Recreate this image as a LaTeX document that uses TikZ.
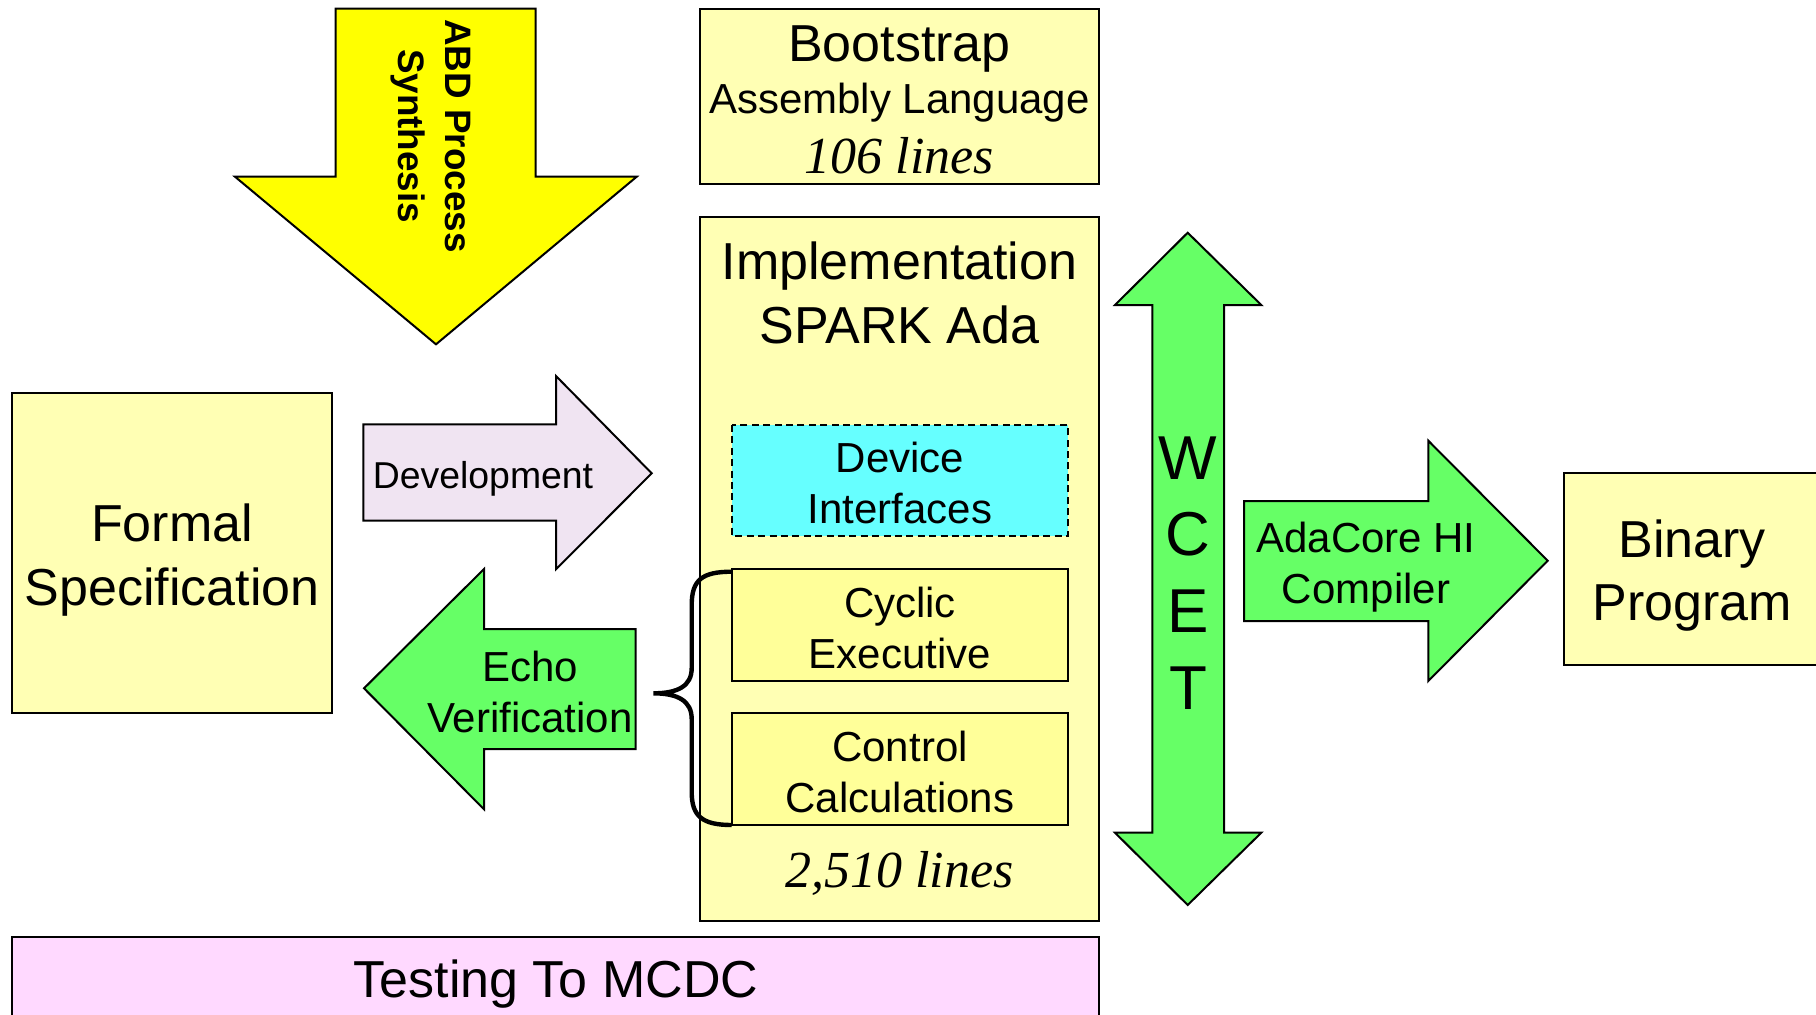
\documentclass[tikz,border=0pt]{standalone}
\usepackage{fontspec}
\setmainfont{Liberation Sans}
\newfontfamily\timesfont{Liberation Serif}
\definecolor{boxyellow}{HTML}{FFFFB4}
\definecolor{inyellow}{HTML}{FFFF99}
\definecolor{devcyan}{HTML}{66FFFF}
\definecolor{arrgreen}{HTML}{66FF66}
\definecolor{lavender}{HTML}{F0E4F2}
\definecolor{testpink}{HTML}{FFD9FF}
\definecolor{arryellow}{HTML}{FFFF00}
\newcommand\fbig{\fontsize{26}{31.5}\selectfont}
\newcommand\fmed{\fontsize{21}{25.5}\selectfont}
\newcommand\fdev{\fontsize{18.7}{22}\selectfont}
\newcommand\fwcet{\fontsize{31}{38.5}\selectfont}
\newcommand\fital{\timesfont\itshape\fontsize{26}{31.5}\selectfont}
\begin{document}
\begin{tikzpicture}[x=0.5pt,y=-0.5pt,
  outl/.style={draw=black,line width=1pt},
  lbl/.style={inner sep=0pt,anchor=base,text=black}]
\useasboundingbox (0,0) rectangle (1816,1014);
\clip (0,0) rectangle (1816,1014);

% boxes
\path[outl,fill=boxyellow] (11.7,393.3) rectangle (332.3,712.7);
\path[outl,fill=boxyellow] (700,9) rectangle (1099.3,184);
\path[outl,fill=boxyellow] (700,216.7) rectangle (1099.3,920.7);
\path[outl,fill=devcyan,dash pattern=on 3.5pt off 2.2pt] (732.3,425) rectangle (1067.7,536);
\path[outl,fill=inyellow] (732.3,569) rectangle (1067.7,680.7);
\path[outl,fill=inyellow] (732.3,712.7) rectangle (1067.7,825);
\path[outl,fill=testpink] (11.7,936.7) rectangle (1099.3,1040);
\path[outl,fill=boxyellow] (1564,473) rectangle (1840,664.7);

% arrows
\path[outl,fill=arryellow] (335.7,8.7) -- (535.7,8.7) -- (535.7,176.7) -- (636.7,176.7)
  -- (436,344.3) -- (235,176.7) -- (335.7,176.7) -- cycle;
\path[outl,fill=lavender] (363.3,424.3) -- (556,424.3) -- (556,376) -- (651.7,473.3)
  -- (556,569.3) -- (556,520.7) -- (363.3,520.7) -- cycle;
\path[outl,fill=arrgreen] (635.7,629) -- (484,629) -- (484,569) -- (364,688.3)
  -- (484,809.3) -- (484,749) -- (635.7,749) -- cycle;
\path[outl,fill=arrgreen] (1187.7,232.7) -- (1261.3,305) -- (1224,305) -- (1224,832.7)
  -- (1261.3,832.7) -- (1187.7,905) -- (1115,832.7) -- (1152.3,832.7) -- (1152.3,305)
  -- (1115,305) -- cycle;
\path[outl,fill=arrgreen] (1244,501) -- (1428.3,501) -- (1428.3,440.7) -- (1547.7,560.7)
  -- (1428.3,681) -- (1428.3,621) -- (1244,621) -- cycle;

% brace
\coordinate (bt) at (731.7,571.7);
\coordinate (bb) at (731.7,825);
\coordinate (btip) at (653.3,693.3);
\draw[line width=2.2pt] (bt) .. controls (702,571.7) and (691.7,580) .. (691.7,605)
  -- (691.7,668) .. controls (691.7,686) and (678,693.3) .. (btip)
  .. controls (678,693.3) and (691.7,701) .. (691.7,719)
  -- (691.7,792) .. controls (691.7,816) and (702,825) .. (bb);

% texts
\node[lbl] (t1) at (899.5,61) {\fbig Bootstrap};
\node[lbl] (t2) at (899.5,113) {\fmed Assembly Language};
\node[lbl] (t3) at (899.5,173) {\fital 106 lines};
\node[lbl] (t4) at (899.5,279) {\fbig Implementation};
\node[lbl] (t5) at (899.5,343) {\fbig SPARK Ada};
\node[lbl] (t6) at (900,472) {\fmed Device};
\node[lbl] (t7) at (900,523) {\fmed Interfaces};
\node[lbl] (t8) at (900,617) {\fmed Cyclic};
\node[lbl] (t9) at (900,668) {\fmed Executive};
\node[lbl] (t10) at (900,761) {\fmed Control};
\node[lbl] (t11) at (900,812) {\fmed Calculations};
\node[lbl] (t12) at (899.5,887) {\fital 2,510 lines};
\node[lbl] (t13) at (172,541) {\fbig Formal};
\node[lbl] (t14) at (172,605) {\fbig Specification};
\node[lbl] (t15) at (483,488) {\fdev Development};
\node[lbl] (t16) at (530,681) {\fmed Echo};
\node[lbl] (t17) at (530,732) {\fmed Verification};
\node[lbl] (t18) at (1366,552) {\fmed AdaCore HI};
\node[lbl] (t19) at (1366,603) {\fmed Compiler};
\node[lbl] (t20) at (1692,557) {\fbig Binary};
\node[lbl] (t21) at (1692,620.7) {\fbig Program};
\node[lbl] (t22) at (556,997) {\fbig Testing To MCDC};
\node[lbl] (w1) at (1188,479) {\fwcet W};
\node[lbl] (w2) at (1188,555) {\fwcet C};
\node[lbl] (w3) at (1188,632) {\fwcet E};
\node[lbl] (w4) at (1188,709) {\fwcet T};
\node[inner sep=0pt,rotate=-90,align=center,font=\bfseries\fontsize{18.4}{23.5}\selectfont] (abd) at (431,136) {ABD Process\\Synthesis};
\end{tikzpicture}
\end{document}
